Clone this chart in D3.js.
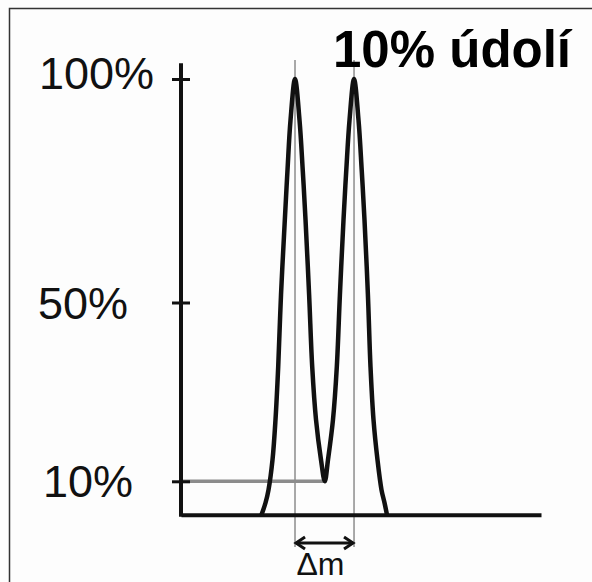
<!DOCTYPE html>
<html>
<head>
    <meta charset="utf-8">
    <script src="https://d3js.org/d3.v7.min.js"></script>
    <style>
        body { margin: 0; background: #fdfdfd; }
        svg { display: block; }
        text { font-family: "Liberation Sans", Arial, Helvetica, sans-serif; fill: #111; }
    </style>
</head>
<body>
    <script>
        // trace of the signal (x in arbitrary m units, y in % of max)
        const traceM = [22.36, 23.48, 24.31, 25.42, 26.25, 27.0, 27.78, 28.84, 29.59, 30.42, 31.67,
                        32.92, 33.81, 34.59, 35.59, 36.45, 37.5, 38.89, 39.94,
                        40.83, 42.22, 43.28, 44.14, 45.14, 45.92, 46.81, 48.06,
                        49.31, 50.19, 50.97, 51.92, 52.64, 53.47, 54.58, 55.69, 56.53, 57.22]
        const traceI = [2.5, 5.2, 8.1, 14.8, 23.8, 35.6, 51.7, 68.5, 79.7, 90.8, 100,
                        90.8, 79.7, 68.5, 51.7, 35.6, 23.8, 14.8, 10,
                        14.8, 23.8, 35.6, 51.7, 68.5, 79.7, 90.8, 100,
                        90.8, 79.7, 68.5, 51.7, 35.6, 23.8, 14.8, 8.1, 5.2, 2.5]
        const peakM = [31.67, 48.06]
        const valley = [39.94, 10]
        const yTicks = [10, 50, 100]
        const yTickLabels = ['10%', '50%', '100%']
        const title = '10% údolí'
        const deltaLabel = 'Δm'
        const baseLevel = 2.5

        const width = 592
        const height = 582
        const svg = d3.select('body').append('svg').attr('width', width).attr('height', height)

        const x = d3.scaleLinear().domain([0, 100]).range([181, 541])
        const y = d3.scaleLinear().domain([0, 100]).range([526, 79])

        // frame (left + top only)
        svg.append('path')
            .attr('d', 'M9.5,' + height + ' L9.5,8.5 L' + width + ',8.5')
            .style('fill', 'none').style('stroke', '#333').style('stroke-width', 1.5)

        // thin guide lines through the peaks
        svg.selectAll('.guide').data(peakM).enter().append('line')
            .attr('class', 'guide')
            .attr('x1', d => x(d)).attr('x2', d => x(d))
            .attr('y1', 60).attr('y2', 547)
            .style('stroke', '#555').style('stroke-width', 1)

        // 10% valley marker
        svg.append('line')
            .attr('x1', x(0)).attr('x2', x(valley[0]))
            .attr('y1', y(valley[1])).attr('y2', y(valley[1]))
            .style('stroke', '#8c8c8c').style('stroke-width', 3.5)

        // x axis (baseline, no ticks)
        const gx = svg.append('g')
            .attr('transform', 'translate(0,' + y(baseLevel) + ')')
            .call(d3.axisBottom(x).tickValues([]).tickSizeOuter(0))
        gx.select('.domain').style('stroke', '#111').style('stroke-width', 4)

        // y axis, ticks crossing the line
        const gy = svg.append('g')
            .attr('transform', 'translate(' + x(0) + ',0)')
            .call(d3.axisLeft(y).tickValues(yTicks).tickSize(9).tickFormat(''))
        gy.select('.domain').remove()
        gy.selectAll('.tick line').attr('x1', 9).style('stroke', '#111').style('stroke-width', 3)
        gy.append('line')
            .attr('y1', y(103.5)).attr('y2', y(baseLevel) + 2)
            .style('stroke', '#111').style('stroke-width', 4)

        // tick labels
        const labelPos = { '100%': [39, 10], '50%': [38, 16], '10%': [43, 16] }
        svg.selectAll('.ylab').data(yTicks).enter().append('text')
            .attr('class', 'ylab')
            .attr('x', (d, i) => labelPos[yTickLabels[i]][0])
            .attr('y', (d, i) => y(d) + labelPos[yTickLabels[i]][1])
            .style('font-size', '45px')
            .text((d, i) => yTickLabels[i])

        // signal trace
        const line = d3.line()
            .x(d => x(d[0]))
            .y(d => y(d[1]))
            .curve(d3.curveCatmullRom.alpha(0.5))
        svg.append('path')
            .attr('d', line(d3.zip(traceM, traceI)))
            .style('fill', 'none').style('stroke', '#111').style('stroke-width', 4.5)
            .style('stroke-linejoin', 'round')

        // delta m arrow
        const ay = 543
        const x1 = x(peakM[0]) + 1, x2 = x(peakM[1]) - 1
        svg.append('line').attr('x1', x1).attr('x2', x2).attr('y1', ay).attr('y2', ay)
            .style('stroke', '#111').style('stroke-width', 3)
        svg.append('path')
            .attr('d', 'M' + (x1 + 9) + ',' + (ay - 6) + ' L' + x1 + ',' + ay + ' L' + (x1 + 9) + ',' + (ay + 6) +
                       ' M' + (x2 - 9) + ',' + (ay - 6) + ' L' + x2 + ',' + ay + ' L' + (x2 - 9) + ',' + (ay + 6))
            .style('fill', 'none').style('stroke', '#111').style('stroke-width', 3)

        svg.append('text')
            .attr('x', (x(peakM[0]) + x(peakM[1])) / 2 - 4)
            .attr('y', 575)
            .attr('text-anchor', 'middle')
            .style('font-size', '32px')
            .text(deltaLabel)

        // title
        svg.append('text')
            .attr('x', 333)
            .attr('y', 67)
            .style('font-size', '51px')
            .style('font-weight', 'bold')
            .style('fill', '#000')
            .text(title)
    </script>
</body>
</html>
